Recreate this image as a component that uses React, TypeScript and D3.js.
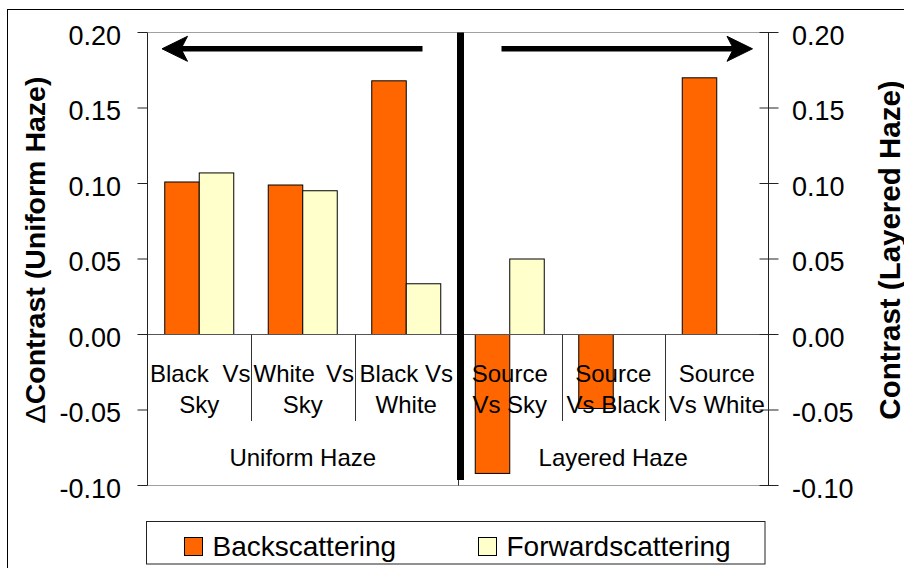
import React from "react";
import * as d3 from "d3";

const categories = ["Black Vs Sky", "White Vs Sky", "Black Vs White", "Source Vs Sky", "Source Vs Black", "Source Vs White"];
const categoryLines = [["Black Vs", "Sky"], ["White Vs", "Sky"], ["Black Vs", "White"], ["Source", "Vs Sky"], ["Source", "Vs Black"], ["Source", "Vs White"]];
const groups = ["Uniform Haze", "Layered Haze"];
const seriesNames = ["Backscattering", "Forwardscattering"];
const backscattering = [0.101, 0.099, 0.168, -0.092, -0.049, 0.170];
const forwardscattering: (number | null)[] = [0.107, 0.0952, 0.0336, 0.050, null, null];
const tickValues = [-0.1, -0.05, 0, 0.05, 0.1, 0.15, 0.2];
const tickLabels = ["-0.10", "-0.05", "0.00", "0.05", "0.10", "0.15", "0.20"];
const leftTitle = "Contrast (Uniform Haze)";
const rightTitle = "Contrast (Layered Haze)";

const W = 904, H = 568;
const FONT = "'Liberation Sans', Arial, Helvetica, sans-serif";
const colors = ["#FF6600", "#FFFFCC"];

export default function App() {
  const x0 = 147.5, x1 = 768.5;
  const x = d3.scaleBand<string>().domain(categories).range([x0, x1]).paddingInner(0).paddingOuter(0);
  const bw = x.bandwidth();
  const xs = d3.scaleBand<string>().domain(seriesNames).range([bw / 6, (bw * 5) / 6]).padding(0);
  const y = d3.scaleLinear().domain([-0.1, 0.2]).range([485.5, 32.5]);
  const y0 = y(0);
  const series = [backscattering, forwardscattering];

  const arrowY = 48.8;
  const divX = x(categories[3])! + 2.5;

  return (
    <svg width={W} height={H} style={{ position: "absolute", left: 0, top: 0, background: "#fff" }} fontFamily={FONT}>
      <rect x={0} y={0} width={W} height={H} fill="#fff" />
      {/* outer chart border */}
      <rect x={7.5} y={9.5} width={1000} height={1000} fill="none" stroke="#000" strokeWidth={1} />

      {/* plot area border (top / bottom) */}
      <line x1={x0} x2={x1} y1={y(0.2)} y2={y(0.2)} stroke="#a0a0a0" />
      <line x1={x0} x2={x1} y1={y(-0.1)} y2={y(-0.1)} stroke="#a0a0a0" />

      {/* bars */}
      {series.map((vals, si) =>
        vals.map((v, i) =>
          v == null ? null : (
            <rect
              key={`b${si}-${i}`}
              x={x(categories[i])! + xs(seriesNames[si])!}
              y={Math.min(y(v), y0)}
              width={xs.bandwidth()}
              height={Math.abs(y(v) - y0)}
              fill={colors[si]}
              stroke="#000"
              strokeWidth={1}
            />
          )
        )
      )}

      {/* zero (category) axis */}
      <line x1={x0} x2={x1} y1={y0} y2={y0} stroke="#555" />

      {/* category separators */}
      {categories.slice(1).map((c, i) => (
        <line key={`sep${i}`} x1={Math.round(x(c)!) + 0.5} x2={Math.round(x(c)!) + 0.5} y1={y0} y2={i === 2 ? y(-0.1) : 421} stroke="#333" />
      ))}

      {/* left axis */}
      <line x1={x0} x2={x0} y1={y(0.2)} y2={y(-0.1)} stroke="#222" />
      {tickValues.map((t, i) => (
        <g key={`lt${i}`}>
          <line x1={x0 - 10} x2={x0} y1={y(t)} y2={y(t)} stroke="#222" />
          <text x={121} y={y(t) + 12} fontSize={27} textAnchor="end" fill="#000">{tickLabels[i]}</text>
        </g>
      ))}
      {/* right axis */}
      <line x1={x1} x2={x1} y1={y(0.2)} y2={y(-0.1)} stroke="#222" />
      {tickValues.map((t, i) => (
        <g key={`rt${i}`}>
          <line x1={x1 - 9} x2={x1 + 10} y1={y(t)} y2={y(t)} stroke="#222" />
          <text x={792} y={y(t) + 12} fontSize={27} textAnchor="start" fill="#000">{tickLabels[i]}</text>
        </g>
      ))}

      {/* category labels */}
      {categoryLines.map((lines, i) => {
        const bx = x(categories[i])!;
        const cx = bx + bw / 2;
        return (
          <g key={`cl${i}`} fontSize={24} fill="#000">
            {i < 2 ? (
              <>
                <text x={bx + 2.5} y={381.5} textAnchor="start">{lines[0].split(" ")[0]}</text>
                <text x={bx + bw - 0.5} y={381.5} textAnchor="end">{lines[0].split(" ")[1]}</text>
              </>
            ) : (
              <text x={cx} y={381.5} textAnchor="middle">{lines[0]}</text>
            )}
            <text x={cx} y={413.3} textAnchor="middle">{lines[1]}</text>
          </g>
        );
      })}
      {/* group labels */}
      {groups.map((g, gi) => {
        const a = x(categories[gi * 3])!;
        const b = x(categories[gi * 3 + 2])! + bw;
        return (
          <text key={`g${gi}`} x={(a + b) / 2} y={465.5} fontSize={24} textAnchor="middle" fill="#000">{g}</text>
        );
      })}

      {/* thick divider */}
      <rect x={divX - 3.5} y={y(0.2)} width={7} height={480 - y(0.2)} fill="#000" />

      {/* arrows */}
      <line x1={422.5} x2={180} y1={arrowY} y2={arrowY} stroke="#000" strokeWidth={5.5} />
      <path d={`M162,${arrowY} L187.5,${arrowY - 12.5} L181,${arrowY} L187.5,${arrowY + 12.5} Z`} fill="#000" stroke="#000" strokeWidth={1} strokeLinejoin="miter" />
      <line x1={501.5} x2={734} y1={arrowY} y2={arrowY} stroke="#000" strokeWidth={5.5} />
      <path d={`M752.5,${arrowY} L727,${arrowY - 12.5} L733.5,${arrowY} L727,${arrowY + 12.5} Z`} fill="#000" stroke="#000" strokeWidth={1} strokeLinejoin="miter" />

      {/* axis titles */}
      <text transform={`translate(45,250) rotate(-90)`} textAnchor="middle" fontSize={28.5} fontWeight="bold" fill="#000">
        <tspan fontWeight="normal">Δ</tspan>{leftTitle}
      </text>
      <text transform={`translate(899.5,250) rotate(-90)`} textAnchor="middle" fontSize={29.5} fontWeight="bold" fill="#000">
        {rightTitle}
      </text>

      {/* legend */}
      <rect x={146.5} y={521.5} width={618.5} height={42.5} fill="#fff" stroke="#222" />
      {seriesNames.map((s, i) => {
        const sx = i === 0 ? 184.5 : 478.5;
        return (
          <g key={`lg${i}`}>
            <rect x={sx} y={537.5} width={18} height={18} fill={colors[i]} stroke="#000" />
            <text x={sx + 28} y={556} fontSize={28} fill="#000">{s}</text>
          </g>
        );
      })}
    </svg>
  );
}
